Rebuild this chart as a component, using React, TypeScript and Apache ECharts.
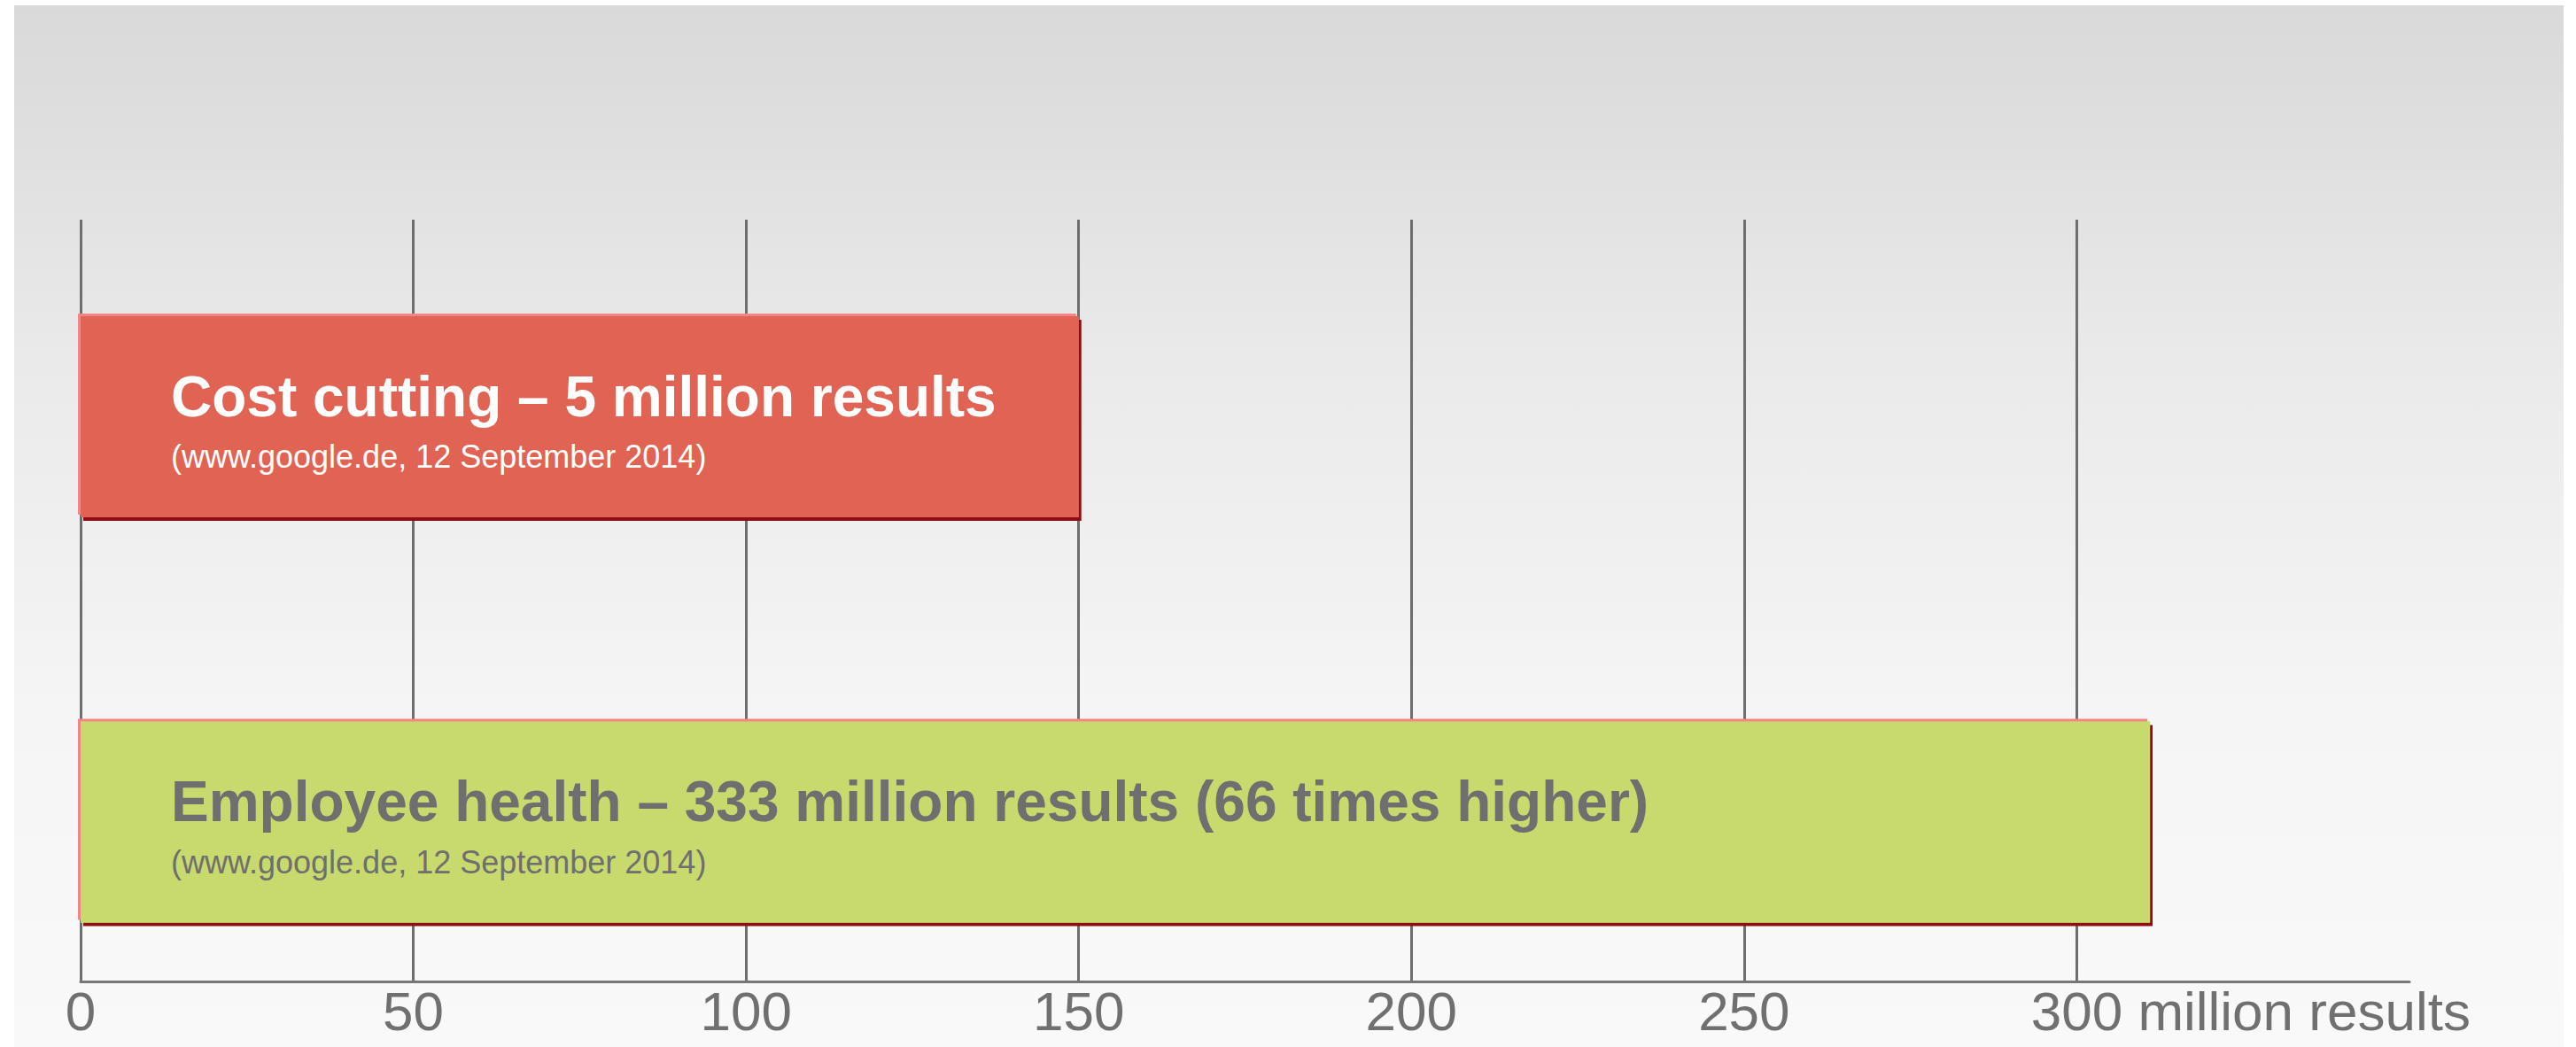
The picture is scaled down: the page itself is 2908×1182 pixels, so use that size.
import React, { useEffect, useRef } from 'react';
import * as echarts from 'echarts';

// ---- data ----
const categories = ['Cost cutting', 'Employee health'];
const barValues = [150, 311];
const barTitles = [
  'Cost cutting – 5 million results',
  'Employee health – 333 million results (66 times higher)',
];
const barSources = [
  '(www.google.de, 12 September 2014)',
  '(www.google.de, 12 September 2014)',
];
const tickValues = [0, 50, 100, 150, 200, 250, 300];
const axisUnit = 'million results';
const axisMax = 350;

// ---- styles ----
const FONT = '"Liberation Sans", Arial, Helvetica, sans-serif';
const barFill = ['#e06352', '#c8da6e'];
const labelColor = ['#ffffff', '#6f6f6f'];
const W = 2908;
const H = 1182;

function measure(text: string, font: string): number {
  const c = document.createElement('canvas');
  const ctx = c.getContext('2d');
  if (!ctx) return 400;
  ctx.font = font;
  return ctx.measureText(text).width;
}

export default function App() {
  const ref = useRef<HTMLDivElement>(null);
  useEffect(() => {
    if (!ref.current) return;
    const chart = echarts.init(ref.current, undefined, { renderer: 'svg', width: W, height: H });
    const tickFont = 62;
    const gapW = measure(' ' + axisUnit, `${tickFont}px "Liberation Sans"`);
    const interval = tickValues[1] - tickValues[0];
    const lastTick = tickValues[tickValues.length - 1];

    const plotLeft = 91;
    const plotRight = 2720;
    const gridTop = 248;
    const axisY = 1108;
    const barTop = 241.75;
    const barBand = 915;

    const option: any = {
      animation: false,
      backgroundColor: '#ffffff',
      textStyle: { fontFamily: FONT },
      graphic: [
        {
          type: 'rect',
          z: -100,
          silent: true,
          shape: { x: 16, y: 6, width: 2878, height: H - 6 },
          style: {
            fill: {
              type: 'linear', x: 0, y: 0, x2: 0, y2: 1,
              colorStops: [
                { offset: 0, color: '#d9d9d9' },
                { offset: 0.17, color: '#e1e1e1' },
                { offset: 0.34, color: '#eaeaea' },
                { offset: 0.68, color: '#f5f5f5' },
                { offset: 1, color: '#f9f9f9' },
              ],
            },
          },
        },
      ],
      grid: [
        {
          left: plotLeft, width: plotRight - plotLeft, top: barTop, height: barBand,
          outerBoundsMode: 'none', containLabel: false,
        },
        {
          left: plotLeft, width: plotRight - plotLeft, top: gridTop, height: axisY - gridTop,
          outerBoundsMode: 'none', containLabel: false,
        },
      ],
      xAxis: [
        { gridIndex: 0, type: 'value', min: 0, max: axisMax, interval, show: false },
        {
          gridIndex: 1,
          type: 'value',
          min: 0,
          max: axisMax,
          interval,
          axisLine: { show: true, lineStyle: { color: '#777777', width: 3 } },
          axisTick: { show: false },
          splitLine: {
            show: true,
            showMinLine: true,
            showMaxLine: false,
            lineStyle: { color: '#6e6e6e', width: 3 },
          },
          axisLabel: {
            show: true,
            margin: 8,
            color: '#707070',
            fontSize: tickFont,
            lineHeight: 50,
            fontFamily: FONT,
            showMaxLabel: false,
            formatter: (v: number) => {
              if (v === lastTick) return `{gap| }${v} ${axisUnit}`;
              return tickValues.indexOf(v) >= 0 ? String(v) : '';
            },
            rich: { gap: { width: gapW, fontSize: tickFont, lineHeight: 50 } },
          },
        },
      ],
      yAxis: [
        { gridIndex: 0, type: 'category', data: categories, inverse: true, show: false },
        { gridIndex: 1, type: 'value', min: 0, max: 1, show: false },
      ],
      series: [
        {
          type: 'bar',
          xAxisIndex: 0,
          yAxisIndex: 0,
          barWidth: 227,
          barGap: '-100%',
          z: 2,
          silent: true,
          itemStyle: { shadowColor: '#8f1014', shadowOffsetX: 3, shadowOffsetY: 4, shadowBlur: 0 },
          data: barValues.map((v, i) => ({ value: v, itemStyle: { color: barFill[i] } })),
        },
        {
          type: 'bar',
          xAxisIndex: 0,
          yAxisIndex: 0,
          barWidth: 227,
          barGap: '-100%',
          z: 3,
          silent: true,
          itemStyle: { shadowColor: '#f28585', shadowOffsetX: -3, shadowOffsetY: -3, shadowBlur: 0 },
          label: {
            show: true,
            position: 'insideLeft',
            distance: 102,
            fontFamily: FONT,
            formatter: (p: any) => `{t|${barTitles[p.dataIndex]}}\n{s|${barSources[p.dataIndex]}}`,
            rich: {
              t: { fontSize: 64, fontWeight: 'bold', lineHeight: 90, fontFamily: FONT },
              s: { fontSize: 36, lineHeight: 46, fontFamily: FONT },
            },
          },
          data: barValues.map((v, i) => ({
            value: v,
            itemStyle: { color: barFill[i] },
            label: { color: labelColor[i] },
          })),
        },
      ],
    };
    chart.setOption(option);
    return () => chart.dispose();
  }, []);
  return (
    <div
      ref={ref}
      style={{ position: 'absolute', left: 0, top: 0, width: W, height: H }}
    />
  );
}
